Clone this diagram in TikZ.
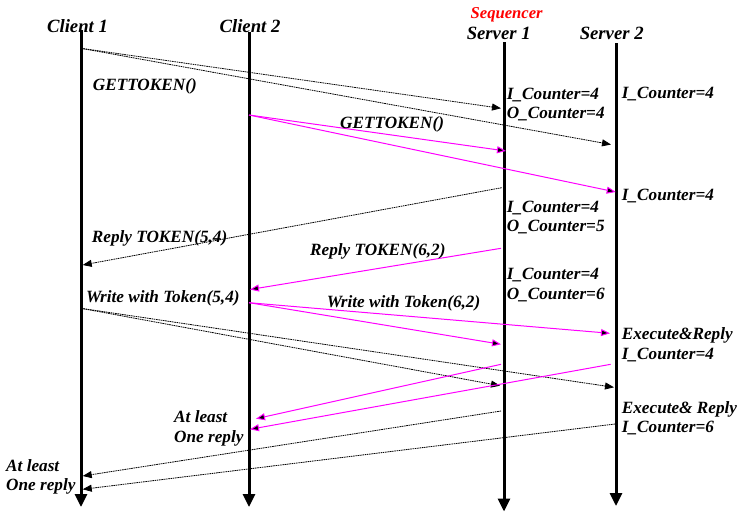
\documentclass[tikz,border=0pt]{standalone}
\usepackage{fontspec}
\setmainfont{Liberation Serif}
\usetikzlibrary{arrows.meta}
\definecolor{msgpink}{RGB}{255,0,255}
\begin{document}
\begin{tikzpicture}[x=1pt,y=-1pt,
  head/.style={font=\fontsize{18.7}{21}\selectfont\bfseries\itshape, inner sep=0pt, anchor=base},
  lbl/.style={font=\fontsize{17.2}{19.3}\selectfont\bfseries\itshape, inner sep=0pt, anchor=base west, align=left},
  lifeline/.style={line width=3pt, -{Triangle[length=13pt,width=12pt]}},
  plainmsg/.style={line width=0.8pt, dash pattern=on 1.6pt off 0.7pt, -{Triangle[length=9pt,width=7pt]}},
  pinkmsg/.style={draw=msgpink, line width=1pt, -{Triangle[length=9pt,width=7pt,fill=black]}},
]
\useasboundingbox (0,0) rectangle (737,512);

% process headers
\node[head] (c1) at (77.5,32.5) {Client 1};
\node[head] (c2) at (250,32.5) {Client 2};
\node[head] (s1) at (498.7,39) {Server 1};
\node[head] (s2) at (611.7,39) {Server 2};
\node[head, font=\fontsize{16.6}{19}\selectfont\bfseries\itshape, text=red] (seq) at (506.7,18) {Sequencer};

% lifelines
\coordinate (c1top) at (81,30);   \coordinate (c1end) at (81,507);
\coordinate (c2top) at (249,31.5); \coordinate (c2end) at (249,507);
\coordinate (s1top) at (504,42);  \coordinate (s1end) at (504,511.5);
\coordinate (s2top) at (616,43);  \coordinate (s2end) at (616,506);
\draw[lifeline] (c1top) -- (c1end);
\draw[lifeline] (c2top) -- (c2end);
\draw[lifeline] (s1top) -- (s1end);
\draw[lifeline] (s2top) -- (s2end);

% message end points
\coordinate (g1) at (81,48.3);
\coordinate (g1s1) at (501,108.3);
\coordinate (g1s2) at (611,144.5);
\coordinate (g2) at (249,115);
\coordinate (g2s1) at (506,151);
\coordinate (g2s2) at (615.7,192);
\coordinate (r1) at (501.7,187.7);
\coordinate (r1c) at (82.7,265);
\coordinate (r2) at (501,248.3);
\coordinate (r2c) at (250,289.5);
\coordinate (w2) at (249,302.7);
\coordinate (w2s2) at (610,333.3);
\coordinate (w2s1) at (501,344.3);
\coordinate (w1) at (81,308.3);
\coordinate (w1s1) at (500,385.7);
\coordinate (w1s2) at (614,387.3);
\coordinate (a1) at (501,364.3);
\coordinate (a1c) at (256,418.7);
\coordinate (a2) at (610.7,364.3);
\coordinate (a2c) at (250,429.3);
\coordinate (b1) at (501,411);
\coordinate (b1c) at (82.7,476);
\coordinate (b2) at (615,424);
\coordinate (b2c) at (82.7,489.3);

% messages of client 1 and their replies
\draw[plainmsg] (g1) -- (g1s1);
\draw[plainmsg] (g1) -- (g1s2);
\draw[plainmsg] (r1) -- (r1c);
\draw[plainmsg] (w1) -- (w1s1);
\draw[plainmsg] (w1) -- (w1s2);
\draw[plainmsg] (b1) -- (b1c);
\draw[plainmsg] (b2) -- (b2c);

% messages of client 2 and their replies
\draw[pinkmsg] (g2) -- (g2s1);
\draw[pinkmsg] (g2) -- (g2s2);
\draw[pinkmsg] (r2) -- (r2c);
\draw[pinkmsg] (w2) -- (w2s2);
\draw[pinkmsg] (w2) -- (w2s1);
\draw[pinkmsg] (a1) -- (a1c);
\draw[pinkmsg] (a2) -- (a2c);

% message labels (two-line nodes sit on the baseline of their last line)
\node[lbl] (lg1) at (92.7,90) {GETTOKEN()};
\node[lbl] (lg2) at (340,128) {GETTOKEN()};
\node[lbl] (lr1) at (91.7,242.3) {Reply TOKEN(5,4)};
\node[lbl] (lr2) at (310,255.7) {Reply TOKEN(6,2)};
\node[lbl] (lw1) at (86,302.3) {Write with Token(5,4)};
\node[lbl] (lw2) at (326.7,307.3) {Write with Token(6,2)};
\node[lbl] (la2) at (174,442) {At least\\One reply};
\node[lbl] (la1) at (6,490.7) {At least\\One reply};

% server state labels
\node[lbl] (st1) at (506.7,118.3) {I\_Counter=4\\O\_Counter=4};
\node[lbl] (st2) at (621.7,98) {I\_Counter=4};
\node[lbl] (st3) at (621.7,200.7) {I\_Counter=4};
\node[lbl] (st4) at (506.7,231.7) {I\_Counter=4\\O\_Counter=5};
\node[lbl] (st5) at (506.7,299) {I\_Counter=4\\O\_Counter=6};
\node[lbl] (st6) at (621.7,359) {Execute\&Reply\\I\_Counter=4};
\node[lbl] (st7) at (621.7,432.3) {Execute\& Reply\\I\_Counter=6};
\end{tikzpicture}
\end{document}
